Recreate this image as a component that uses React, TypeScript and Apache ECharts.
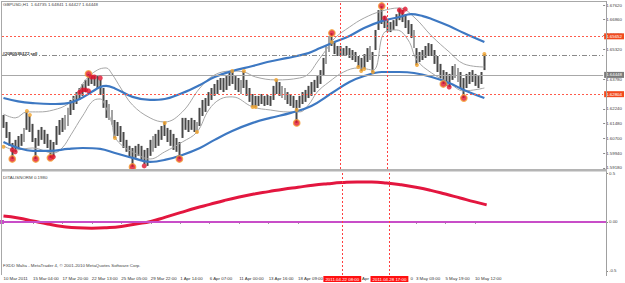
import React, { useEffect, useRef } from 'react';
import * as echarts from 'echarts';

const SLOTS = 205;
const categories = Array.from({ length: SLOTS }, (_, i) => String(i));
// time labels every 10 slots; the ones behind the red time boxes only show a fragment
const timeLabels = ['10 Mar 2011', '15 Mar 04:00', '17 Mar 20:00', '22 Mar 13:00', '25 Mar 05:00', '29 Mar 22:00', '1 Apr 14:00', '6 Apr 07:00', '11 Apr 00:00', '13 Apr 16:00', '18 Apr 09:00', '', 'Apr', '0', '3 May 03:00', '5 May 19:00', '10 May 12:00'];
const fragmentPad: Record<number, number> = { 12: 5, 13: 24 };
const priceTicks = [1.5918, 1.5994, 1.607, 1.6148, 1.6224, 1.6378, 1.6532, 1.6608, 1.6686, 1.6762];
const indTicks = [0.5, 0, -0.5];
const indTickText = ['0.5', '0.00', '-0.5'];

const highs = [1.6192,1.6156,1.6104,1.6047,1.6063,1.6083,1.6094,1.6125,1.6208,1.6187,
1.6146,1.6073,1.6115,1.6130,1.6115,1.6094,1.6063,1.6052,1.6135,1.6166,
1.6177,1.6192,1.6229,1.6270,1.6291,1.6311,1.6332,1.6353,1.6374,1.6405,
1.6400,1.6394,1.6394,1.6374,1.6332,1.6270,1.6249,1.6218,1.6166,1.6156,
1.6135,1.6104,1.6063,1.6032,1.6021,1.6032,1.6042,1.6032,1.6011,1.6021,
1.6063,1.6083,1.6094,1.6115,1.6135,1.6156,1.6125,1.6115,1.6094,1.6073,
1.6052,1.6177,1.6177,1.6166,1.6177,1.6166,1.6156,1.6229,1.6270,1.6280,
1.6311,1.6332,1.6353,1.6374,1.6384,1.6384,1.6394,1.6415,1.6420,1.6394,
1.6384,1.6374,1.6420,1.6374,1.6332,1.6301,1.6291,1.6291,1.6301,1.6291,
1.6296,1.6291,1.6343,1.6374,1.6363,1.6343,1.6332,1.6311,1.6301,1.6291,
1.6270,1.6291,1.6311,1.6322,1.6343,1.6363,1.6374,1.6394,1.6425,1.6488,
1.6550,1.6602,1.6617,1.6570,1.6550,1.6550,1.6539,1.6550,1.6539,1.6529,
1.6519,1.6498,1.6488,1.6508,1.6539,1.6550,1.6519,1.6633,1.6736,1.6757,
1.6705,1.6684,1.6674,1.6684,1.6715,1.6741,1.6736,1.6715,1.6684,1.6664,
1.6633,1.6539,1.6519,1.6529,1.6550,1.6565,1.6560,1.6529,1.6498,1.6457,
1.6425,1.6415,1.6405,1.6446,1.6457,1.6436,1.6415,1.6384,1.6405,1.6415,
1.6425,1.6405,1.6394,1.6415,1.6508];

const lows = [1.6125,1.6073,1.6032,1.5964,1.6001,1.6021,1.6032,1.6052,1.6115,1.6104,
1.6052,1.5964,1.6032,1.6063,1.6042,1.6021,1.5970,1.5975,1.6037,1.6089,
1.6104,1.6115,1.6135,1.6192,1.6218,1.6249,1.6270,1.6291,1.6311,1.6343,
1.6353,1.6343,1.6332,1.6296,1.6229,1.6177,1.6166,1.6141,1.6073,1.6083,
1.6052,1.6021,1.6001,1.5970,1.5923,1.5970,1.5980,1.5959,1.5938,1.5928,
1.5980,1.6001,1.6021,1.6032,1.6063,1.6083,1.6052,1.6032,1.6011,1.6001,
1.5964,1.6073,1.6115,1.6104,1.6115,1.6104,1.6099,1.6135,1.6187,1.6208,
1.6239,1.6270,1.6291,1.6301,1.6322,1.6311,1.6322,1.6343,1.6353,1.6322,
1.6311,1.6301,1.6332,1.6291,1.6260,1.6234,1.6234,1.6239,1.6249,1.6239,
1.6244,1.6239,1.6270,1.6301,1.6291,1.6280,1.6270,1.6249,1.6239,1.6229,
1.6151,1.6229,1.6249,1.6260,1.6280,1.6291,1.6311,1.6332,1.6353,1.6394,
1.6457,1.6519,1.6550,1.6508,1.6498,1.6498,1.6498,1.6503,1.6488,1.6477,
1.6467,1.6441,1.6420,1.6431,1.6467,1.6477,1.6415,1.6529,1.6633,1.6664,
1.6643,1.6622,1.6622,1.6633,1.6653,1.6684,1.6674,1.6643,1.6612,1.6591,
1.6539,1.6451,1.6467,1.6477,1.6488,1.6498,1.6498,1.6457,1.6415,1.6384,
1.6353,1.6343,1.6337,1.6374,1.6384,1.6363,1.6332,1.6280,1.6332,1.6353,
1.6363,1.6343,1.6332,1.6353,1.6425];

const blueUpper = [[0,1.6280],[5,1.6263],[10,1.6254],[16,1.6249],[22,1.6254],[26,1.6275],[30,1.6311],[33,1.6337],[35,1.6343],[38,1.6330],[44,1.6286],[50,1.6270],[55,1.6275],[61,1.6306],[67,1.6348],[72,1.6389],[78,1.6420],[85,1.6446],[90,1.6467],[97,1.6488],[104,1.6513],[108,1.6539],[112,1.6565],[118,1.6602],[123,1.6643],[129,1.6679],[135,1.6700],[139,1.6715],[143,1.6705],[146,1.6690],[152,1.6653],[157,1.6617],[164,1.6570]];
const blueLower = [[0,1.6052],[5,1.6021],[10,1.6006],[16,1.6006],[22,1.6016],[27,1.6021],[33,1.6016],[38,1.5995],[44,1.5970],[50,1.5949],[55,1.5959],[61,1.5985],[67,1.6021],[72,1.6063],[78,1.6109],[85,1.6151],[91,1.6177],[98,1.6203],[105,1.6239],[112,1.6306],[118,1.6363],[123,1.6394],[129,1.6415],[135,1.6415],[140,1.6410],[146,1.6389],[152,1.6358],[157,1.6322],[164,1.6280]];
const grayUpper = [[0,1.6197],[4,1.6177],[8,1.6208],[12,1.6208],[17,1.6218],[22,1.6249],[25,1.6301],[28,1.6374],[32,1.6425],[35,1.6436],[37,1.6405],[40,1.6332],[44,1.6244],[50,1.6177],[55,1.6156],[61,1.6208],[67,1.6332],[72,1.6400],[78,1.6420],[82,1.6415],[86,1.6389],[93,1.6374],[101,1.6384],[104,1.6405],[107,1.6467],[110,1.6529],[113,1.6591],[118,1.6648],[123,1.6695],[129,1.6731],[135,1.6747],[140,1.6700],[146,1.6602],[152,1.6519],[157,1.6457],[164,1.6441]];
const grayLower = [[0,1.6032],[4,1.6011],[10,1.6021],[17,1.5995],[20,1.6021],[23,1.6089],[27,1.6187],[31,1.6270],[33,1.6275],[35,1.6229],[37,1.6146],[38,1.6078],[41,1.6027],[44,1.6001],[50,1.5964],[55,1.6001],[61,1.6052],[66,1.6104],[70,1.6218],[74,1.6275],[78,1.6286],[85,1.6234],[91,1.6218],[97,1.6208],[101,1.6208],[104,1.6244],[107,1.6311],[111,1.6363],[116,1.6415],[121,1.6436],[126,1.6425],[130,1.6622],[134,1.6633],[138,1.6581],[141,1.6477],[146,1.6410],[152,1.6358],[157,1.6317],[164,1.6332]];

const orangeDots = [[0,1.6027],[8,1.6213],[9,1.6192],[38,1.6073],[55,1.6151],[66,1.6104],[78,1.6420],[82,1.6420],[85,1.6234],[86,1.6234],[93,1.6374],[100,1.6218],[112,1.6570],[121,1.6441],[122,1.6420],[123,1.6431],[126,1.6415],[141,1.6451],[164,1.6508]];
const redRings = [[3,1.5964],[11,1.5964],[16,1.5970],[29,1.6405],[44,1.5923],[60,1.5964],[100,1.6151],[112,1.6617],[129,1.6757],[150,1.6353],[157,1.6280]];
const redDots = [[3,1.6011],[4,1.6001],[17,1.5975],[26,1.6311],[27,1.6322],[28,1.6322],[29,1.6317],[30,1.6389],[31,1.6389],[33,1.6384],[48,1.5928],[130,1.6695],[135,1.6736],[136,1.6726],[137,1.6741],[152,1.6337]];

const indicatorValues = [[0,0.06],[5,0.04],[10,0.01],[15,-0.02],[20,-0.045],[25,-0.06],[30,-0.063],[35,-0.058],[40,-0.045],[45,-0.02],[50,0.005],[55,0.05],[60,0.095],[65,0.14],[70,0.18],[75,0.22],[80,0.255],[85,0.285],[90,0.31],[95,0.335],[100,0.355],[105,0.375],[110,0.39],[115,0.402],[120,0.408],[125,0.407],[130,0.398],[135,0.38],[140,0.355],[145,0.323],[150,0.285],[155,0.245],[160,0.205],[164,0.175]];

const redLevels = [1.65652, 1.62804];
const sellLevels = [1.6519, 1.6477];
const sellLabels = ['#2080536122 sell', '#2080535472 sell'];
const bidPrice = 1.64448;
const vLineSlots = [115, 131];
const vLineLabels = ['2011.04.22 08:00', '2011.04.28 17:00'];
const titleText = 'GBPUSD,H1  1.64735 1.64841 1.64427 1.64448';
const indicatorName = 'DITALISNORM 0.1980';
const footerText = 'FXDD Malta - MetaTrader 4, \u00a9 2001-2010 MetaQuotes Software Corp.';

const FONT = 'Liberation Sans';
const FS = 4.4;
const PRICE_COLOR = '#484848';

export default function App() {
  const ref = useRef<HTMLDivElement>(null);
  useEffect(() => {
    document.body.style.margin = '0';
    const chart = echarts.init(ref.current!, null, { renderer: 'svg' });
    const showIdx = (i: number) => i % 10 === 0 && i / 10 < timeLabels.length && timeLabels[i / 10] !== '';
    const txt = { fontFamily: FONT, fontSize: FS };
    const option: any = {
      animation: false,
      backgroundColor: '#ffffff',
      textStyle: { fontFamily: FONT },
      grid: [
        { left: 2, right: 19, top: 2, height: 167 },
        { left: 2, right: 19, top: 173, height: 102 },
      ],
      xAxis: [
        { type: 'category', gridIndex: 0, data: categories, boundaryGap: true, show: false },
        {
          type: 'category', gridIndex: 1, data: categories, boundaryGap: true,
          axisLine: { show: true, lineStyle: { color: '#a0a0a0', width: 1 } },
          axisTick: { show: true, interval: (i: number) => showIdx(i) && !(i / 10 in fragmentPad), alignWithLabel: true, length: 2, lineStyle: { color: '#999' } },
          axisLabel: {
            show: true, interval: (i: number) => showIdx(i),
            formatter: (_v: string, i: number) => {
              const k = i / 10;
              const t = timeLabels[k] ?? '';
              return k in fragmentPad ? `{f${k}|${t}}` : t;
            },
            rich: {
              f12: { padding: [0, 0, 0, fragmentPad[12]], color: '#333', ...txt },
              f13: { padding: [0, 0, 0, fragmentPad[13]], color: '#333', ...txt },
            },
            align: 'left', margin: 1.5, color: '#333', ...txt,
          },
          splitLine: { show: false },
        },
      ],
      yAxis: [
        {
          type: 'value', gridIndex: 0, position: 'right', min: 1.5912, max: 1.6778,
          axisLine: { show: false },
          axisTick: { show: true, customValues: priceTicks, length: 2, lineStyle: { color: '#888' } },
          axisLabel: { show: true, customValues: priceTicks, formatter: (v: number) => v.toFixed(5), margin: 3, color: '#444', ...txt },
          splitLine: { show: false },
        },
        {
          type: 'value', gridIndex: 1, position: 'right', min: -0.541, max: 0.5,
          axisLine: { show: false },
          axisTick: { show: true, customValues: indTicks, length: 2, lineStyle: { color: '#888' } },
          axisLabel: { show: true, customValues: indTicks, formatter: (v: number) => indTickText[indTicks.indexOf(v)] ?? String(v), margin: 3, color: '#444', ...txt },
          splitLine: { show: false },
        },
      ],
      series: [
        {
          type: 'candlestick', xAxisIndex: 0, yAxisIndex: 0, barWidth: 2.4,
          data: highs.map((h, i) => [lows[i], h, lows[i], h]),
          itemStyle: { color: PRICE_COLOR, color0: PRICE_COLOR, borderColor: PRICE_COLOR, borderColor0: PRICE_COLOR, borderWidth: 0 },
          markLine: {
            silent: true, symbol: ['none', 'none'],
            data: [
              ...redLevels.map((v) => ({ yAxis: v, lineStyle: { color: '#ff5a4a', type: [2, 2], width: 1 }, label: { show: true, position: 'end', distance: 1, formatter: v.toFixed(5), backgroundColor: '#f24a1e', color: '#fff', padding: [1, 2], ...txt } })),
              ...sellLevels.map((v, k) => ({ yAxis: v, lineStyle: { color: '#8a8a8a', type: [5, 2, 1, 2], width: 1 }, label: { show: true, position: 'insideStartTop', distance: 0.5, formatter: sellLabels[k], color: '#444', ...txt } })),
              { yAxis: bidPrice, lineStyle: { color: '#a8a8a8', type: 'solid', width: 1 }, label: { show: true, position: 'end', distance: 1, formatter: bidPrice.toFixed(5), backgroundColor: '#7a7a7a', color: '#fff', padding: [1, 2], ...txt } },
              ...vLineSlots.map((s) => ({ xAxis: s, lineStyle: { color: '#ff4040', type: [2, 2], width: 1 }, label: { show: false } })),
            ],
          },
          z: 2,
        },
        { type: 'line', xAxisIndex: 0, yAxisIndex: 0, data: grayUpper, smooth: 0.4, symbol: 'none', lineStyle: { color: '#a6a6a6', width: 1 }, z: 3 },
        { type: 'line', xAxisIndex: 0, yAxisIndex: 0, data: grayLower, smooth: 0.4, symbol: 'none', lineStyle: { color: '#a6a6a6', width: 1 }, z: 3 },
        { type: 'line', xAxisIndex: 0, yAxisIndex: 0, data: blueUpper, smooth: 0.4, symbol: 'none', lineStyle: { color: '#3d78c2', width: 2.2 }, z: 4 },
        { type: 'line', xAxisIndex: 0, yAxisIndex: 0, data: blueLower, smooth: 0.4, symbol: 'none', lineStyle: { color: '#3d78c2', width: 2.2 }, z: 4 },
        { type: 'scatter', xAxisIndex: 0, yAxisIndex: 0, data: orangeDots, symbolSize: 4, itemStyle: { color: '#f2a22a' }, z: 5 },
        { type: 'scatter', xAxisIndex: 0, yAxisIndex: 0, data: redRings, symbolSize: 6.5, itemStyle: { color: '#e0142e', borderColor: '#f5a03a', borderWidth: 1.3 }, z: 6 },
        { type: 'scatter', xAxisIndex: 0, yAxisIndex: 0, data: redDots, symbolSize: 5, itemStyle: { color: '#e0142e' }, z: 6 },
        {
          type: 'line', xAxisIndex: 1, yAxisIndex: 1, data: indicatorValues, smooth: 0.5, symbol: 'none',
          lineStyle: { color: '#e3163f', width: 3 }, z: 4,
          markLine: {
            silent: true, symbol: ['none', 'none'],
            data: [
              { yAxis: 0, symbol: ['none', 'rect'], symbolSize: 4, lineStyle: { color: '#c84ec8', width: 2, type: 'solid' }, label: { show: false } },
              ...vLineSlots.map((s, k) => ({ xAxis: s, lineStyle: { color: '#ff4040', type: [2, 2], width: 1 }, label: { show: true, position: 'start', distance: 1, formatter: vLineLabels[k], backgroundColor: '#ff1010', color: '#fff', padding: [1, 2], ...txt } })),
            ],
          },
        },
      ],
      graphic: [
        { type: 'line', shape: { x1: 1, y1: 1.5, x2: 607, y2: 1.5 }, style: { stroke: '#a8a8a8', lineWidth: 1 }, z: 10 },
        { type: 'line', shape: { x1: 1.5, y1: 1, x2: 1.5, y2: 275 }, style: { stroke: '#a8a8a8', lineWidth: 1 }, z: 10 },
        { type: 'line', shape: { x1: 606.5, y1: 1, x2: 606.5, y2: 276 }, style: { stroke: '#a0a0a0', lineWidth: 1 }, z: 10 },
        { type: 'rect', shape: { x: 1, y: 169, width: 606, height: 2.5 }, style: { fill: '#b4b4b4' }, z: 10 },
        { type: 'text', x: 3, y: 4.5, style: { text: titleText, fill: '#444', font: `${FS}px ${FONT}`, verticalAlign: 'middle' }, z: 10 },
        { type: 'text', x: 3, y: 177, style: { text: indicatorName, fill: '#444', font: `${FS}px ${FONT}`, verticalAlign: 'middle' }, z: 10 },
        { type: 'text', x: 3, y: 265, style: { text: footerText, fill: '#444', font: `${FS}px ${FONT}`, verticalAlign: 'middle' }, z: 10 },
      ],
    };
    chart.setOption(option);
    return () => chart.dispose();
  }, []);
  return <div ref={ref} style={{ width: 625, height: 283 }} />;
}
